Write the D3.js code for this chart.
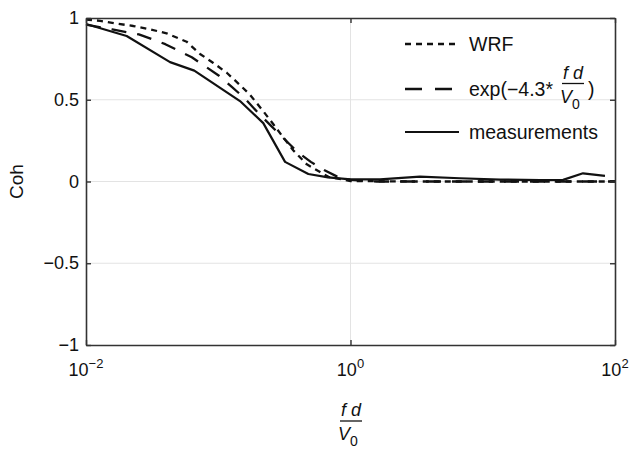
<!DOCTYPE html>
<html>
<head>
<meta charset="utf-8">
<script src="https://cdn.jsdelivr.net/npm/d3@7"></script>
<style>
  html, body { margin: 0; padding: 0; background: #fff; }
  svg { display: block; font-family: "Liberation Sans", Arial, Helvetica, sans-serif; }
</style>
</head>
<body>
<svg id="chart" width="633" height="451"></svg>
<script>
// Normalised frequency f d / V0 (log axis) and coherence values
const wrfX = [0.01, 0.0128, 0.0166, 0.0228, 0.0305, 0.0407, 0.0577, 0.0728, 0.0918, 0.116,
              0.146, 0.174, 0.219, 0.261, 0.31, 0.37, 0.467, 0.589, 0.681, 1.0, 3, 10, 30, 100];
const wrfY = [0.99, 0.983, 0.967, 0.951, 0.931, 0.906, 0.855, 0.78, 0.725, 0.665,
              0.59, 0.53, 0.43, 0.35, 0.27, 0.19, 0.105, 0.058, 0.029, 0.003, 0, 0, 0, 0];

const expX = [0.01, 0.0158, 0.0251, 0.0398, 0.0631, 0.1, 0.126, 0.158, 0.2, 0.251, 0.316,
              0.398, 0.501, 0.631, 0.794, 1, 1.26, 1.58, 2, 5, 10, 50, 100];
const expY = [0.96, 0.93, 0.90, 0.84, 0.76, 0.65, 0.58, 0.51, 0.42, 0.34, 0.26,
              0.18, 0.12, 0.07, 0.03, 0.01, 0.005, 0, 0, 0, 0, 0, 0];

const measX = [0.01, 0.0203, 0.0432, 0.0659, 0.146, 0.219, 0.32, 0.48, 0.676, 1.0, 1.67,
               3.35, 6.73, 13.5, 27.1, 40.5, 57.3, 84];
const measY = [0.963, 0.89, 0.73, 0.678, 0.492, 0.357, 0.12, 0.046, 0.025, 0.013, 0.013,
               0.03, 0.02, 0.012, 0.008, 0.01, 0.05, 0.034];

const xTickValues = [0.01, 1, 100];
const xTickExponents = ["\u22122", "0", "2"];
const yTickValues = [-1, -0.5, 0, 0.5, 1];
const yTickLabels = ["\u22121", "\u22120.5", "0", "0.5", "1"];

const legendLabels = ["WRF", "exp(\u22124.3*", "measurements"];

// Layout
const plot = { left: 86, right: 615, top: 18, bottom: 345 };
const ink = "#111";
const axisInk = "#333";
const gridInk = "#e3e3e3";

const svg = d3.select("#chart");

const x = d3.scaleLog().domain([0.01, 100]).range([plot.left, plot.right]);
const y = d3.scaleLinear().domain([-1, 1]).range([plot.bottom, plot.top]);

// Grid lines at interior major ticks
const grid = svg.append("g");
grid.selectAll("line.gx")
  .data(xTickValues.slice(1, -1))
  .join("line")
  .attr("x1", d => x(d)).attr("x2", d => x(d))
  .attr("y1", plot.top).attr("y2", plot.bottom)
  .attr("stroke", gridInk).attr("stroke-width", 1);
grid.selectAll("line.gy")
  .data(yTickValues.slice(1, -1))
  .join("line")
  .attr("x1", plot.left).attr("x2", plot.right)
  .attr("y1", d => y(d)).attr("y2", d => y(d))
  .attr("stroke", gridInk).attr("stroke-width", 1);

// Data lines
const line = d3.line().x(d => x(d[0])).y(d => y(d[1]));
const curves = svg.append("g").attr("fill", "none").attr("stroke", ink)
  .attr("stroke-linejoin", "round");

curves.append("path")
  .attr("d", line(d3.zip(expX, expY)))
  .attr("stroke-width", 2.3)
  .attr("stroke-dasharray", "15,11");

curves.append("path")
  .attr("d", line(d3.zip(wrfX, wrfY)))
  .attr("stroke-width", 2.3)
  .attr("stroke-dasharray", "6,5");

curves.append("path")
  .attr("d", line(d3.zip(measX, measY)))
  .attr("stroke-width", 2.2);

// Axes: bottom/left with labels, top/right as plain box with inward ticks
const tickLen = 5;
const xAxis = d3.axisBottom(x).tickValues(xTickValues).tickSizeInner(-tickLen).tickSizeOuter(0).tickFormat("");
const yAxis = d3.axisLeft(y).tickValues(yTickValues).tickSizeInner(-tickLen).tickSizeOuter(0).tickFormat("");
const xAxisTop = d3.axisTop(x).tickValues(xTickValues).tickSizeInner(-tickLen).tickSizeOuter(0).tickFormat("");
const yAxisRight = d3.axisRight(y).tickValues(yTickValues).tickSizeInner(-tickLen).tickSizeOuter(0).tickFormat("");

function styleAxis(g) {
  g.selectAll("path.domain").attr("stroke", axisInk).attr("stroke-width", 1.6);
  g.selectAll(".tick line").attr("stroke", axisInk).attr("stroke-width", 1.4);
}
svg.append("g").attr("transform", `translate(0,${plot.bottom})`).call(xAxis).call(styleAxis);
svg.append("g").attr("transform", `translate(0,${plot.top})`).call(xAxisTop).call(styleAxis);
svg.append("g").attr("transform", `translate(${plot.left},0)`).call(yAxis).call(styleAxis);
svg.append("g").attr("transform", `translate(${plot.right},0)`).call(yAxisRight).call(styleAxis);

// Y tick labels
svg.append("g").selectAll("text")
  .data(yTickValues)
  .join("text")
  .attr("x", plot.left - 7)
  .attr("y", d => y(d) + 6)
  .attr("text-anchor", "end")
  .attr("font-size", 18)
  .attr("fill", ink)
  .text((d, i) => yTickLabels[i]);

// X tick labels as powers of ten
const xl = svg.append("g").selectAll("text")
  .data(xTickValues)
  .join("text")
  .attr("x", d => x(d))
  .attr("y", plot.bottom + 31)
  .attr("text-anchor", "middle")
  .attr("font-size", 18)
  .attr("fill", ink);
xl.append("tspan").text("10");
xl.append("tspan").attr("font-size", 13).attr("dy", -8).text((d, i) => xTickExponents[i]);

// Fraction f d / V0, drawn centred at (cx, barY)
function fraction(g, cx, barY, size) {
  g.append("text")
    .attr("x", cx).attr("y", barY - 5)
    .attr("text-anchor", "middle")
    .attr("font-size", size).attr("font-style", "italic").attr("fill", ink)
    .text("f d");
  g.append("line")
    .attr("x1", cx - 11).attr("x2", cx + 11)
    .attr("y1", barY).attr("y2", barY)
    .attr("stroke", ink).attr("stroke-width", 1.3);
  const v = g.append("text")
    .attr("x", cx - 3).attr("y", barY + 19)
    .attr("text-anchor", "middle")
    .attr("font-size", size).attr("fill", ink);
  v.append("tspan").attr("font-style", "italic").text("V");
  v.append("tspan").attr("font-size", size * 0.78).attr("dy", 6).text("0");
}

// Axis titles
fraction(svg.append("g"), 351, 421, 18);
svg.append("text")
  .attr("transform", `translate(23,${(plot.top + plot.bottom) / 2}) rotate(-90)`)
  .attr("text-anchor", "middle")
  .attr("font-size", 19)
  .attr("fill", ink)
  .text("Coh");

// Legend
const legend = svg.append("g");
const legendRows = [
  { label: legendLabels[0], dash: "6,5", y: 44, w: 2.3 },
  { label: legendLabels[1], dash: "17,13", y: 89, w: 2.3 },
  { label: legendLabels[2], dash: null, y: 132, w: 2.2 }
];
legendRows.forEach(r => {
  legend.append("line")
    .attr("x1", 405).attr("x2", 459)
    .attr("y1", r.y).attr("y2", r.y)
    .attr("stroke", ink).attr("stroke-width", r.w)
    .attr("stroke-dasharray", r.dash);
  legend.append("text")
    .attr("x", 469).attr("y", r.y + 7)
    .attr("font-size", 19.5).attr("fill", ink)
    .text(r.label);
});
// Exponential row: fraction and closing bracket
fraction(legend, 573, 83.5, 18);
legend.append("text")
  .attr("x", 588).attr("y", 96)
  .attr("font-size", 19.5).attr("fill", ink)
  .text(")");
</script>
</body>
</html>
